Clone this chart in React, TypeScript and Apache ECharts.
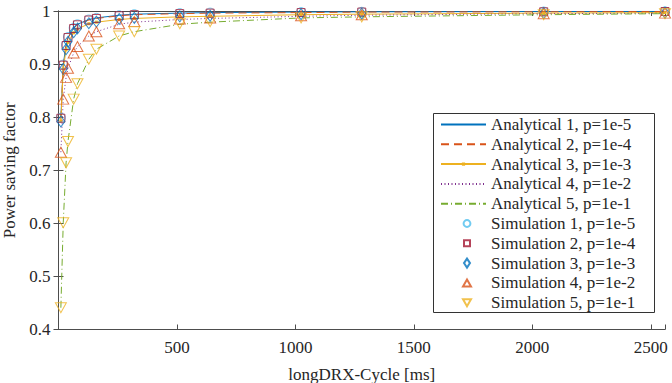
import React, { useEffect, useRef } from "react";
import * as echarts from "echarts";

// longDRX-Cycle values [ms]
const cycles = [10, 20, 32, 40, 64, 80, 128, 160, 256, 320, 512, 640, 1024, 1280, 2048, 2560];

// Analytical power saving factor, one array per paging probability
const analytical1 = [0.798, 0.899, 0.936, 0.950, 0.968, 0.975, 0.984, 0.987, 0.992, 0.994, 0.996, 0.997, 0.998, 0.9985, 0.999, 0.9992];
const analytical2 = [0.797, 0.898, 0.935, 0.949, 0.967, 0.974, 0.983, 0.986, 0.991, 0.993, 0.995, 0.996, 0.997, 0.998, 0.9985, 0.999];
const analytical3 = [0.793, 0.891, 0.927, 0.941, 0.959, 0.966, 0.976, 0.979, 0.984, 0.986, 0.989, 0.990, 0.993, 0.994, 0.996, 0.997];
const analytical4 = [0.734, 0.834, 0.875, 0.892, 0.921, 0.933, 0.953, 0.961, 0.975, 0.979, 0.984, 0.986, 0.990, 0.992, 0.995, 0.996];
const analytical5 = [0.441, 0.601, 0.714, 0.754, 0.834, 0.863, 0.909, 0.928, 0.953, 0.961, 0.975, 0.979, 0.987, 0.989, 0.993, 0.995];

// Simulated power saving factor
const simulation1 = [0.799, 0.899, 0.936, 0.951, 0.968, 0.975, 0.984, 0.987, 0.992, 0.994, 0.996, 0.997, 0.998, 0.9985, 0.999, 0.9992];
const simulation2 = [0.798, 0.898, 0.935, 0.950, 0.967, 0.974, 0.983, 0.986, 0.991, 0.993, 0.995, 0.996, 0.997, 0.998, 0.9985, 0.999];
const simulation3 = [0.792, 0.891, 0.928, 0.942, 0.960, 0.967, 0.977, 0.980, 0.985, 0.987, 0.990, 0.991, 0.994, 0.995, 0.996, 0.997];
const simulation4 = [0.734, 0.834, 0.875, 0.892, 0.921, 0.933, 0.953, 0.961, 0.976, 0.980, 0.985, 0.987, 0.991, 0.993, 0.995, 0.996];
const simulation5 = [0.441, 0.601, 0.714, 0.754, 0.834, 0.863, 0.909, 0.928, 0.953, 0.961, 0.976, 0.980, 0.987, 0.989, 0.993, 0.995];

const xTicks = [500, 1000, 1500, 2000, 2500];

const analyticalNames = [
  "Analytical 1, p=1e-5",
  "Analytical 2, p=1e-4",
  "Analytical 3, p=1e-3",
  "Analytical 4, p=1e-2",
  "Analytical 5, p=1e-1",
];
const simulationNames = [
  "Simulation 1, p=1e-5",
  "Simulation 2, p=1e-4",
  "Simulation 3, p=1e-3",
  "Simulation 4, p=1e-2",
  "Simulation 5, p=1e-1",
];

const FONT = "Liberation Serif";
const FONT_SIZE = 17;
const AXIS_COLOR = "#4d4d4d";
const TEXT_COLOR = "#262626";

// hollow marker outlines drawn on the plot
const CIRCLE = "path://M5,0A5,5,0,1,1,5,10A5,5,0,1,1,5,0Z";
const SQUARE = "path://M0,0L10,0L10,10L0,10Z";
const DIAMOND = "path://M5,0L10,7L5,14L0,7Z";
const TRI_UP = "path://M5,0L10,9L0,9Z";
const TRI_DOWN = "path://M0,0L10,0L5,9Z";

// legend icons laid out in a 45 x 9 box (two empty sub-paths pin the box corners)
const BOX = "M0,0L0,0ZM45,9L45,9Z";
const ICON_CIRCLE = `path://${BOX}M26,1.1A3.4,3.4,0,1,1,26,7.9A3.4,3.4,0,1,1,26,1.1Z`;
const ICON_SQUARE = `path://${BOX}M23,1.5L29,1.5L29,7.5L23,7.5Z`;
const ICON_DIAMOND = `path://${BOX}M26,0L29,4.5L26,9L23,4.5Z`;
const ICON_TRI_UP = `path://${BOX}M26,1L30,8L22,8Z`;
const ICON_TRI_DOWN = `path://${BOX}M22,1L30,1L26,8Z`;

const pair = (ys: number[]) => cycles.map((c, i) => [c, ys[i]]);

const lineSeries = (name: string, ys: number[], color: string, type: any, withDots = false) => ({
  name,
  type: "line",
  data: pair(ys),
  symbol: withDots ? "rect" : "none",
  symbolSize: withDots ? 3 : 0,
  showSymbol: withDots,
  itemStyle: { color },
  lineStyle: { color, width: 1, type },
  z: 2,
});

const markerSeries = (name: string, ys: number[], color: string, symbol: string, size: any) => ({
  name,
  type: "scatter",
  data: pair(ys),
  symbol,
  symbolSize: size,
  symbolKeepAspect: false,
  itemStyle: { color: "rgba(0,0,0,0)", borderColor: color, borderWidth: 1 },
  z: 3,
});

export default function App() {
  const ref = useRef<HTMLDivElement>(null);

  useEffect(() => {
    if (!ref.current) return;
    const chart = echarts.init(ref.current, null, { renderer: "svg" });

    const text = { fontFamily: FONT, fontSize: FONT_SIZE, color: TEXT_COLOR };
    const tickStyle = { show: true, inside: true, length: 5, lineStyle: { color: AXIS_COLOR, width: 1 } };
    const lineStyle = { show: true, lineStyle: { color: AXIS_COLOR, width: 1 } };

    const legendBase = {
      orient: "vertical",
      left: 440,
      itemWidth: 45,
      itemGap: 2.8,
      padding: 0,
      textStyle: { ...text, lineHeight: 17 },
      selectedMode: false,
      z: 10,
    };

    chart.setOption({
      animation: false,
      backgroundColor: "#ffffff",
      textStyle: text,
      grid: {
        left: 58.5,
        right: 7,
        top: 11,
        bottom: 53.5,
        containLabel: false,
        outerBoundsMode: "none",
      },
      xAxis: [
        {
          type: "value",
          min: 0,
          max: 2560,
          interval: 500,
          position: "bottom",
          name: "longDRX-Cycle [ms]",
          nameLocation: "middle",
          nameGap: 36,
          nameTextStyle: text,
          axisLine: lineStyle,
          axisTick: tickStyle,
          splitLine: { show: false },
          axisLabel: {
            ...text,
            margin: 9,
            formatter: (v: number) => (xTicks.includes(v) ? String(v) : ""),
          },
        },
        {
          type: "value",
          min: 0,
          max: 2560,
          interval: 500,
          position: "top",
          axisLine: lineStyle,
          axisTick: tickStyle,
          axisLabel: { show: false },
          splitLine: { show: false },
        },
      ],
      yAxis: [
        {
          type: "value",
          min: 0.4,
          max: 1,
          interval: 0.1,
          position: "left",
          name: "Power saving factor",
          nameLocation: "middle",
          nameGap: 35,
          nameTextStyle: text,
          axisLine: lineStyle,
          axisTick: tickStyle,
          splitLine: { show: false },
          axisLabel: { ...text, margin: 8 },
        },
        {
          type: "value",
          min: 0.4,
          max: 1,
          interval: 0.1,
          position: "right",
          axisLine: lineStyle,
          axisTick: tickStyle,
          axisLabel: { show: false },
          splitLine: { show: false },
        },
      ],
      // legend frame
      graphic: [
        {
          type: "rect",
          left: 433,
          top: 113,
          z: 9,
          shape: { width: 221, height: 199 },
          style: { fill: "#ffffff", stroke: "#333333", lineWidth: 1 },
        },
      ],
      legend: [
        {
          ...legendBase,
          top: 116,
          itemHeight: 4,
          data: analyticalNames.map((name, i) => ({
            name,
            itemStyle: i === 2 ? undefined : { opacity: 0 },
          })),
        },
        {
          ...legendBase,
          top: 215,
          itemHeight: 9,
          symbolKeepAspect: true,
          data: [
            { name: simulationNames[0], icon: ICON_CIRCLE },
            { name: simulationNames[1], icon: ICON_SQUARE },
            { name: simulationNames[2], icon: ICON_DIAMOND },
            { name: simulationNames[3], icon: ICON_TRI_UP },
            { name: simulationNames[4], icon: ICON_TRI_DOWN },
          ],
        },
      ],
      series: [
        lineSeries(analyticalNames[0], analytical1, "#0072BD", "solid"),
        lineSeries(analyticalNames[1], analytical2, "#D95319", [8, 5]),
        lineSeries(analyticalNames[2], analytical3, "#EDB120", "solid", true),
        lineSeries(analyticalNames[3], analytical4, "#7E2F8E", [1, 2.5]),
        lineSeries(analyticalNames[4], analytical5, "#77AC30", [7, 3, 1, 3]),
        markerSeries(simulationNames[0], simulation1, "#4DBEEE", CIRCLE, 9),
        markerSeries(simulationNames[1], simulation2, "#A2142F", SQUARE, 8),
        markerSeries(simulationNames[2], simulation3, "#0072BD", DIAMOND, [8, 11]),
        markerSeries(simulationNames[3], simulation4, "#D95319", TRI_UP, [11, 10]),
        markerSeries(simulationNames[4], simulation5, "#EDB120", TRI_DOWN, [11, 10]),
      ],
    });

    return () => chart.dispose();
  }, []);

  return (
    <div
      ref={ref}
      style={{ position: "fixed", left: 0, top: 0, width: 672, height: 383, background: "#ffffff" }}
    />
  );
}
